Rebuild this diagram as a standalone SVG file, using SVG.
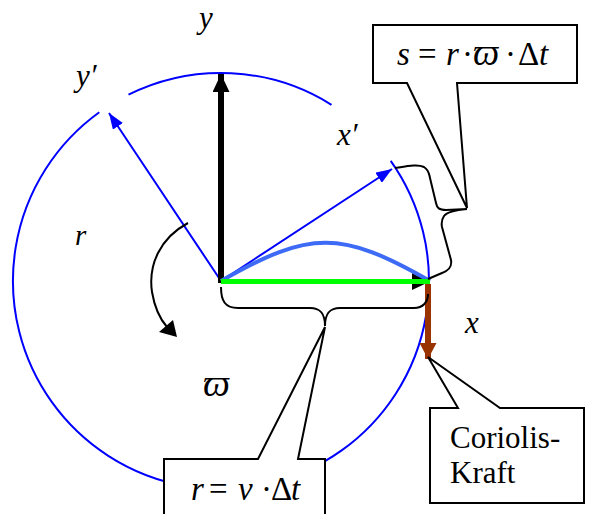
<svg xmlns="http://www.w3.org/2000/svg" width="590" height="514" viewBox="0 0 590 514">
<defs>
<style>
.circ{fill:none;stroke:#0000ff;stroke-width:2}
.bl{stroke:#0000ff;stroke-width:2;fill:none}
.blk{fill:none;stroke:#000;stroke-width:2}
.box{fill:#fff;stroke:#000;stroke-width:2;stroke-linejoin:miter}
.lbl{font-family:"Liberation Serif","Times New Roman",serif;font-size:31px;font-style:italic;fill:#000}
.eq{font-family:"Liberation Serif","Times New Roman",serif;font-size:33px;fill:#000}
.it{font-style:italic}
.om{font-style:italic;font-size:37px}
.txt{font-family:"Liberation Serif","Times New Roman",serif;font-size:31px;fill:#000}
</style>
<marker id="ab" markerUnits="userSpaceOnUse" markerWidth="16" markerHeight="12" refX="16" refY="6" orient="auto"><path d="M0,0 L16,6 L0,12 z" fill="#0000ff"/></marker>
<marker id="ak" markerUnits="userSpaceOnUse" markerWidth="18" markerHeight="17" refX="18" refY="8.5" orient="auto"><path d="M0,0 L18,8.5 L0,17 z" fill="#000"/></marker>
<marker id="abr" markerUnits="userSpaceOnUse" markerWidth="16" markerHeight="17" refX="16" refY="8.5" orient="auto"><path d="M0,0 L16,8.5 L0,17 z" fill="#993300"/></marker>
</defs>
<rect width="590" height="514" fill="#fff"/>
<g id="circle">
<path class="circ" d="M390.7,160.8 A208,208 0 1 1 99.3,112.3"/>
<path class="circ" d="M128.5,94.7 A208,208 0 0 1 331.5,104.8"/>
</g>
<g id="connectors">
<line id="y-prime-axis" class="bl" x1="221" y1="281" x2="109" y2="113" marker-end="url(#ab)"/>
<line id="x-prime-axis" class="bl" x1="221" y1="281" x2="392" y2="169" marker-end="url(#ab)"/>
<line id="y-axis" x1="221" y1="283" x2="221" y2="74" stroke="#000" stroke-width="6" marker-end="url(#ak)"/>
<polygon id="x-axis-head" points="412,273 430,281.5 412,290" fill="#000"/>
<path id="path-curve" d="M221,281 C310,230 341,230 430,281" fill="none" stroke="#3d6bf5" stroke-width="4"/>
<line id="x-axis" x1="221" y1="281.5" x2="430" y2="281.5" stroke="#00ff00" stroke-width="5"/>
<line id="coriolis-arrow" x1="428" y1="284" x2="428" y2="359" stroke="#993300" stroke-width="6" marker-end="url(#abr)"/>
<path id="rotation" class="blk" d="M188,223 C160,238 148,265 152,292 C155,310 160,319 167,327"/>
<polygon points="159,332 173,320 177,337" fill="#000"/>
<path id="brace-bottom" class="blk" d="M221,287 C221,301 225,308 238,308 L310,308 C320,308 325,313 325,326 C325,313 330,308 340,308 L414,308 C423,308 428,302 428,294"/>
<path id="brace-right" class="blk" d="M395,168 C408,166 418,164 424,167 C429,170 429,174 430,178 L436,203 C437,208 439,210 446,210 L467,209 C455,210 447,212 444,216 C442,219 441,222 442,227 L451,260 C452,266 450,270 442,273 L428,279"/>
</g>
<g id="labels">
<text class="lbl" x="199" y="28">y</text>
<text class="lbl" x="76" y="86">y′</text>
<text class="lbl" x="337" y="145">x′</text>
<text class="lbl" x="465" y="333">x</text>
<text class="lbl" x="75" y="245" style="font-size:29px">r</text>
<text class="lbl" x="203" y="396" style="font-size:38px">ϖ</text>
</g>
<g id="callout-s">
<path class="box" d="M373,25 L577,25 L577,83 L457,83 L467,208 L407,83 L373,83 Z"/>
<text class="eq" y="65"><tspan class="it" x="397">s</tspan><tspan x="418">=</tspan><tspan class="it" x="446">r</tspan><tspan x="462">·</tspan><tspan class="om" x="473">ϖ</tspan><tspan x="505">·</tspan><tspan x="518">Δ</tspan><tspan class="it" x="539">t</tspan></text>
</g>
<g id="callout-r">
<path class="box" d="M164,530 L164,459 L258,459 L325,327 L298,459 L325,459 L325,530"/>
<text class="eq" y="500"><tspan class="it" x="191">r</tspan><tspan x="209">=</tspan><tspan class="it" x="238">v</tspan><tspan x="261">·</tspan><tspan x="271">Δ</tspan><tspan class="it" x="291">t</tspan></text>
</g>
<g id="callout-coriolis">
<path class="box" d="M430,408 L458,408 L428,357 L500,408 L584,408 L584,503 L430,503 Z"/>
<text class="txt" x="450" y="448">Coriolis-</text>
<text class="txt" x="450" y="483">Kraft</text>
</g>
</svg>
